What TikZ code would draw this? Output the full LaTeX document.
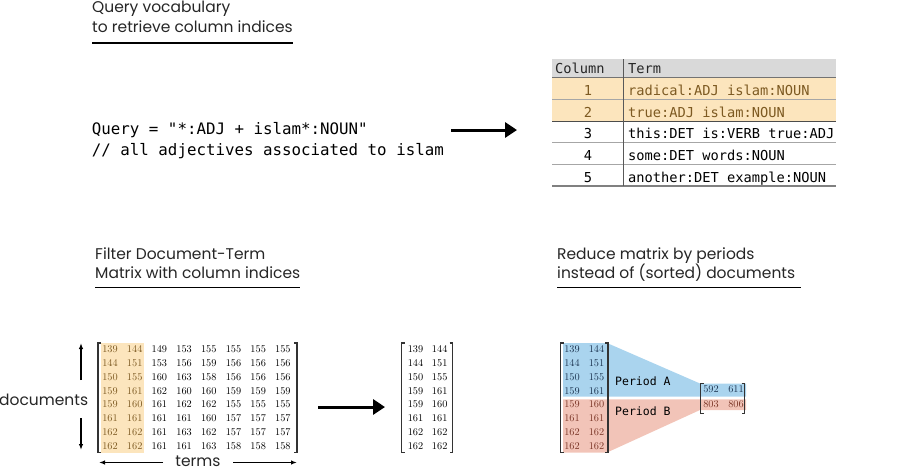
\documentclass[tikz,border=0pt]{standalone}
\usepackage{fontspec}
\setmainfont{Poppins}
\newfontfamily\codefont{DejaVu Sans Mono}
\newfontfamily\numfont{Latin Modern Roman}
\usetikzlibrary{arrows.meta}

\definecolor{hlorange}{HTML}{FCE5BD}
\definecolor{hltext}{HTML}{7D5A22}
\definecolor{periodA}{HTML}{AAD4EE}
\definecolor{periodAtext}{HTML}{1C3450}
\definecolor{periodB}{HTML}{F2C4B8}
\definecolor{periodBtext}{HTML}{7A3526}
\definecolor{headgray}{HTML}{D9D9D9}
\definecolor{rulegray}{HTML}{A6A6A6}

\tikzset{
  heading/.style={anchor=base west, font=\fontsize{15.5}{18}\selectfont, inner sep=0pt, text=black!85},
  code/.style={anchor=base west, font=\codefont\fontsize{15.8}{18}\selectfont, inner sep=0pt},
  cell/.style={font=\codefont\fontsize{13.7}{16}\selectfont, inner sep=0pt},
  num/.style={font=\numfont\fontsize{10.3}{12}\selectfont, inner sep=0pt},
  brk/.style={line width=1.4pt, draw=black!80},
  bigarrow/.style={-{Triangle[length=12pt,width=15pt]}, line width=3pt},
  thinarrow/.style={-{Latex[length=6pt,width=4.5pt]}, line width=1.3pt},
  underline/.style={line width=1.8pt}
}

\def\dtmrows{{139,144,149,153,155,155,155,155},{144,151,153,156,159,156,156,156},%
  {150,155,160,163,158,156,156,156},{159,161,162,160,160,159,159,159},%
  {159,160,161,162,162,155,155,155},{161,161,161,161,160,157,157,157},%
  {162,162,161,163,162,157,157,157},{162,162,161,161,163,158,158,158}}

\begin{document}
\begin{tikzpicture}[x=1pt, y=-1pt]
  \useasboundingbox (0,0) rectangle (900,472);

  % headings
  \node[heading] (h1a) at (92,12.7) {Query vocabulary};
  \node[heading] (h1b) at (92,32) {to retrieve column indices};
  \draw[underline] (92,43.3) -- (293,43.3);
  \node[heading] (h2a) at (95,259) {Filter Document-Term};
  \node[heading] (h2b) at (95,278.5) {Matrix with column indices};
  \draw[underline] (95,287.5) -- (300,287.5);
  \node[heading] (h3a) at (557,259) {Reduce matrix by periods};
  \node[heading] (h3b) at (557,278.5) {instead of (sorted) documents};
  \draw[underline] (557,287.5) -- (801,287.5);

  % query
  \node[code] (q1) at (91.7,134.5) {Query = "*:ADJ + islam*:NOUN"};
  \node[code] (q2) at (91.7,155.5) {// all adjectives associated to islam};
  \coordinate (qa) at (451,130);
  \coordinate (qb) at (517,130);
  \draw[bigarrow] (qa) -- (qb);

  % vocabulary table
  \fill[headgray] (552,59) rectangle (836,77.5);
  \fill[hlorange] (552,77.5) rectangle (836,121);
  \node[cell, anchor=base west, text=black!85] (colhead) at (555,73.5) {Column};
  \node[cell, anchor=base west, text=black!85] (termhead) at (628,73.5) {Term};
  \foreach \t [count=\i] in {radical:ADJ islam:NOUN, true:ADJ islam:NOUN,
      this:DET is:VERB true:ADJ, some:DET words:NOUN, another:DET example:NOUN} {
    \ifnum\i<3 \def\tc{hltext}\else\def\tc{black}\fi
    \node[cell, anchor=base, text=\tc] (col-\i) at (588,{95.5+21.65*(\i-1)}) {\i};
    \node[cell, anchor=base west, text=\tc] (term-\i) at (628,{95.5+21.65*(\i-1)}) {\t};
  }
  \draw[black!55, line width=0.8pt] (552,77.5) -- (836,77.5);
  \draw[rulegray, line width=0.6pt] (552,99) -- (836,99);
  \draw[black!70, line width=0.9pt] (552,121) -- (836,121);
  \foreach \y in {142.7,164.3} \draw[rulegray, line width=0.6pt] (552,\y) -- (836,\y);
  \draw[black!50, line width=1.2pt] (552,186) -- (836,186);
  \draw[black!65, line width=0.8pt] (623,59) -- (623,186);

  % full document-term matrix
  \fill[hlorange] (101,343) rectangle (143.5,452.5);
  \foreach \row [count=\r] in \dtmrows {
    \foreach \v [count=\c] in \row {
      \ifnum\c<3 \def\tc{hltext}\else\def\tc{black}\fi
      \node[num, text=\tc] (a-\r-\c) at ({110+24.7*(\c-1)},{349.3+13.8*(\r-1)}) {\v};
    }
  }
  \draw[brk] (101,343) -| (98,452.5) -- (101,452.5);
  \draw[brk] (294,343) -| (297,452.5) -- (294,452.5);

  \node[anchor=base east, font=\fontsize{15.5}{18}\selectfont, inner sep=0pt, text=black!85] (docs) at (88.3,405) {documents};
  \draw[thinarrow] (81,380) -- (81,343);
  \draw[thinarrow] (81,418) -- (81,450);
  \node[anchor=base, font=\fontsize{15.5}{18}\selectfont, inner sep=0pt, text=black!85] (terms) at (198,466.5) {terms};
  \draw[thinarrow] (163,462.5) -- (99,462.5);
  \draw[thinarrow] (233,462.5) -- (297,462.5);

  \coordinate (fa) at (318,407);
  \coordinate (fb) at (385,407);
  \draw[bigarrow] (fa) -- (fb);

  % filtered matrix
  \foreach \row [count=\r] in \dtmrows {
    \foreach \v [count=\c] in \row {
      \ifnum\c<3
        \node[num] (b-\r-\c) at ({415.5+24.2*(\c-1)},{349.3+13.8*(\r-1)}) {\v};
      \fi
    }
  }
  \draw[brk] (404.5,343) -| (401.5,452.5) -- (404.5,452.5);
  \draw[brk] (449.7,343) -| (452.7,452.5) -- (449.7,452.5);

  % reduced by periods
  \fill[periodA] (563,343) -- (607,343) -- (700,383.5) -- (746,383.5) -- (746,396.7)
    -- (563,396.7) -- cycle;
  \fill[periodB] (563,399.4) -- (746,399.4) -- (746,410) -- (700,410) -- (607,452.5)
    -- (563,452.5) -- cycle;
  \foreach \row [count=\r] in \dtmrows {
    \ifnum\r<5 \def\tc{periodAtext}\else\def\tc{periodBtext}\fi
    \foreach \v [count=\c] in \row {
      \ifnum\c<3
        \node[num, text=\tc] (c-\r-\c) at ({572+24.5*(\c-1)},{349.3+13.8*(\r-1)}) {\v};
      \fi
    }
  }
  \draw[brk] (563.5,343) -| (560.5,452.5) -- (563.5,452.5);
  \draw[brk] (605,343) -| (608,452.5) -- (605,452.5);
  \node[anchor=base west, font=\codefont\fontsize{11.5}{14}\selectfont, inner sep=0pt] (pA) at (615,385) {Period A};
  \node[anchor=base west, font=\codefont\fontsize{11.5}{14}\selectfont, inner sep=0pt] (pB) at (615,415) {Period B};

  \node[num, text=periodAtext] (d-1-1) at (711,389.5) {592};
  \node[num, text=periodAtext] (d-1-2) at (736,389.5) {611};
  \node[num, text=periodBtext] (d-2-1) at (711,404.3) {803};
  \node[num, text=periodBtext] (d-2-2) at (736,404.3) {806};
  \draw[brk] (703.5,383.5) -| (700.5,413.5) -- (703.5,413.5);
  \draw[brk] (741.5,383.5) -| (744.5,413.5) -- (741.5,413.5);
\end{tikzpicture}
\end{document}
